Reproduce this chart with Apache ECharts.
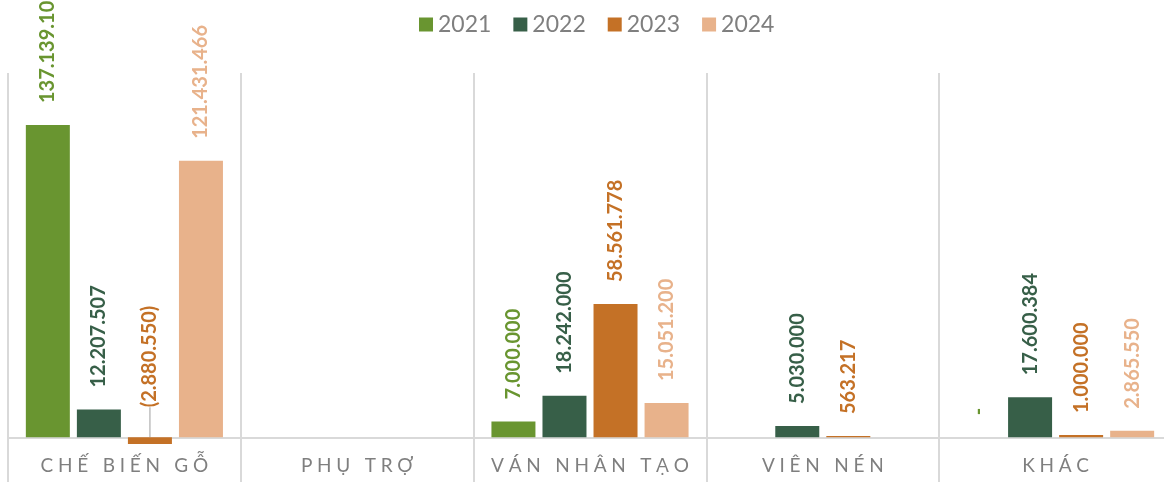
<!DOCTYPE html>
<html>
<head>
<meta charset="utf-8">
<script src="https://cdn.jsdelivr.net/npm/echarts@6/dist/echarts.min.js"></script>
<style>
  html, body { margin: 0; padding: 0; background: #fff; }
  #chart { width: 1164px; height: 482px; }
</style>
</head>
<body>
<div id="chart"></div>
<script>
var categories = ['CHẾ BIẾN GỖ', 'PHỤ TRỢ', 'VÁN NHÂN TẠO', 'VIÊN NÉN', 'KHÁC'];
var years = ['2021', '2022', '2023', '2024'];
// '-' = no data for that category
var data2021 = [137139107, '-', 7000000, '-', 0];
var data2022 = [12207507, '-', 18242000, 5030000, 17600384];
var data2023 = [-2880550, '-', 58561778, 563217, 1000000];
var data2024 = [121431466, '-', 15051200, '-', 2865550];

var colors = ['#699530', '#375F48', '#C47126', '#E8B28B'];

var fmt = function (v) {
    if (v === 0) return '-';
    var s = Math.abs(v).toString().replace(/\B(?=(\d{3})+(?!\d))/g, '.');
    return v < 0 ? '(' + s + ')' : s;
};

// wide letter spacing like the original
var spaced = function (t) {
    return t.split('').join('\u2005');
};

var makeSeries = function (name, values, idx) {
    return {
        name: name,
        type: 'bar',
        barWidth: 44,
        barGap: '16%',
        itemStyle: { color: colors[idx] },
        label: {
            show: true,
            position: 'top',
            rotate: 90,
            align: 'left',
            verticalAlign: 'middle',
            distance: 22,
            color: colors[idx],
            fontFamily: 'Lato',
            fontWeight: 'bold',
            fontSize: 20,
            formatter: function (p) { return fmt(p.value); }
        },
        data: values.map(function (v) {
            if (typeof v === 'number' && v < 0) {
                return {
                    value: v,
                    label: { distance: 30 },
                    labelLine: { show: true, lineStyle: { color: '#bfbfbf', width: 1.5 } }
                };
            }
            return v;
        })
    };
};

var chart = echarts.init(document.getElementById('chart'));

chart.setOption({
    animation: false,
    legend: {
        top: 8,
        left: 414,
        itemWidth: 14,
        itemHeight: 14,
        itemGap: 22,
        icon: 'rect',
        textStyle: { color: '#7f7f7f', fontSize: 23, fontFamily: 'Lato' },
        data: years
    },
    grid: { left: 8, right: -8, top: 73, bottom: -10, outerBoundsMode: 'none', containLabel: false },
    xAxis: {
        type: 'category',
        data: categories,
        axisTick: { show: false },
        axisLine: { show: true, onZero: true, lineStyle: { color: '#d9d9d9', width: 2 } },
        splitLine: { show: true, interval: 0, lineStyle: { color: '#d9d9d9', width: 2 } },
        axisLabel: {
            interval: 0,
            hideOverlap: false,
            margin: -36,
            color: '#7f7f7f',
            fontSize: 19,
            fontFamily: 'Lato',
            formatter: spaced
        }
    },
    yAxis: {
        type: 'value',
        min: -24000000,
        max: 160000000,
        show: false
    },
    series: [
        makeSeries(years[0], data2021, 0),
        makeSeries(years[1], data2022, 1),
        makeSeries(years[2], data2023, 2),
        makeSeries(years[3], data2024, 3)
    ]
});
</script>
</body>
</html>
